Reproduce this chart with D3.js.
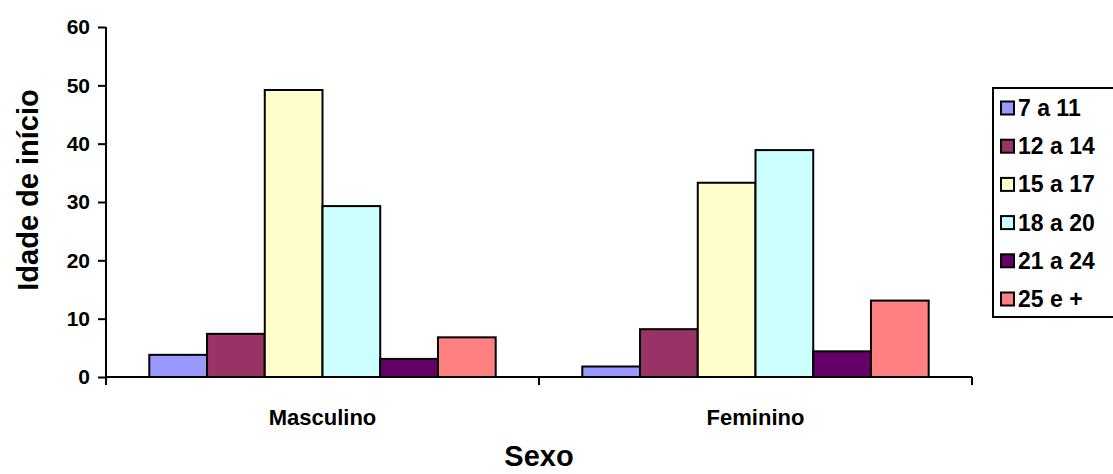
<!DOCTYPE html>
<html><head><meta charset="utf-8">
<script src="https://cdn.jsdelivr.net/npm/d3@7"></script>
<style>body{margin:0;background:#fff}svg{display:block;font-family:"Liberation Sans",Arial,sans-serif;font-weight:bold}</style>
</head><body><svg id="c" width="1113" height="474"></svg>
<script>
const categories = ["Masculino", "Feminino"];
const series = ["7 a 11", "12 a 14", "15 a 17", "18 a 20", "21 a 24", "25 e +"];
const masculino = [3.8, 7.4, 49.2, 29.3, 3.1, 6.8];
const feminino = [1.8, 8.2, 33.3, 38.9, 4.4, 13.1];
const colors = ["#9999FF", "#993366", "#FFFFCC", "#CCFFFF", "#660066", "#FF8080"];
const yTicks = [0, 10, 20, 30, 40, 50, 60];

const values = {Masculino: masculino, Feminino: feminino};
const svg = d3.select("#c");
const L = 106, R = 972, T = 27, B = 377;
const FONT = "Liberation Sans, Arial, sans-serif";

const x0 = d3.scaleBand().domain(categories).range([L, R]).paddingInner(0).paddingOuter(0);
const x1 = d3.scaleBand().domain(series).range([0, x0.bandwidth()]).paddingInner(0).paddingOuter(0.75);
const y = d3.scaleLinear().domain([0, 60]).range([B, T]);

// bars
categories.forEach(c => {
  const g = svg.append("g").attr("transform", `translate(${x0(c)},0)`);
  g.selectAll("rect").data(series).join("rect")
    .attr("x", s => x1(s))
    .attr("y", (s, i) => y(values[c][i]))
    .attr("width", x1.bandwidth())
    .attr("height", (s, i) => B - y(values[c][i]))
    .attr("fill", (s, i) => colors[i])
    .attr("stroke", "#000").attr("stroke-width", 2);
});

// y axis
const ya = svg.append("g").attr("transform", `translate(${L},0)`)
  .call(d3.axisLeft(y).tickValues(yTicks).tickSize(8).tickPadding(8));
ya.select(".domain").attr("stroke-width", 2).attr("d", `M0,${T}V${B}`);
ya.selectAll(".tick line").attr("stroke-width", 2);
ya.selectAll("text").attr("font-size", 21).attr("font-family", FONT).attr("font-weight", "bold").attr("fill", "#000");

// x axis
const xa = svg.append("g").attr("transform", `translate(0,${B})`);
xa.append("path").attr("d", `M${L},0H${R}`).attr("stroke", "#000").attr("stroke-width", 2);
const bounds = [L, x0("Feminino"), R];
xa.selectAll("line.t").data(bounds).join("line").attr("class", "t")
  .attr("x1", d => d).attr("x2", d => d).attr("y1", 0).attr("y2", 8)
  .attr("stroke", "#000").attr("stroke-width", 2);
xa.selectAll("text").data(categories).join("text")
  .attr("x", c => x0(c) + x0.bandwidth() / 2).attr("y", 48)
  .attr("text-anchor", "middle").attr("font-size", 22).text(c => c);

// axis titles
svg.append("text").attr("x", L + (R - L) / 2).attr("y", 466)
  .attr("text-anchor", "middle").attr("font-size", 29).text("Sexo");
svg.append("text").attr("transform", `translate(38,190) rotate(-90)`)
  .attr("text-anchor", "middle").attr("font-size", 29).text("Idade de início");

// legend
const lg = svg.append("g").attr("transform", "translate(993,88)");
lg.append("rect").attr("x", 0).attr("y", 0).attr("width", 130).attr("height", 229)
  .attr("fill", "#fff").attr("stroke", "#000").attr("stroke-width", 2);
const items = lg.selectAll("g.it").data(series).join("g").attr("class", "it")
  .attr("transform", (s, i) => `translate(0,${20 + i * 38.2})`);
items.append("rect").attr("x", 8).attr("y", -6.5).attr("width", 13).attr("height", 13)
  .attr("fill", (s, i) => colors[i]).attr("stroke", "#000").attr("stroke-width", 2);
items.append("text").attr("x", 25).attr("y", 8).attr("font-size", 23).text(s => s);
</script></body></html>
